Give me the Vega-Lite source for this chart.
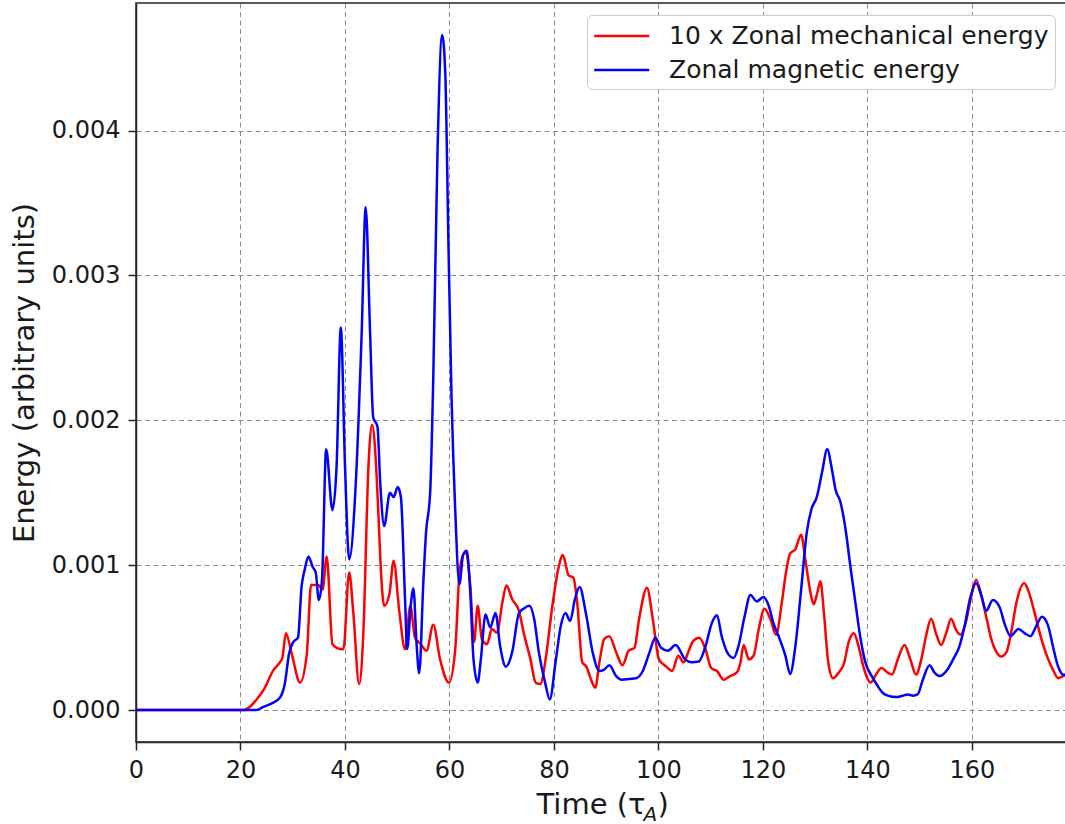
{
  "$schema": "https://vega.github.io/schema/vega-lite/v6.json",
  "width": 930,
  "height": 739,
  "autosize": {"type": "none"},
  "padding": {"left": 136, "top": 3, "right": 0, "bottom": 82},
  "background": "white",
  "datasets": {
    "mechanical": [
      {"t":0,"e":0},{"t":20.5,"e":0},{"t":21.8,"e":0.000023},{"t":23.0,"e":0.00007},{"t":24.4,"e":0.000138},{"t":26.3,"e":0.000276},{"t":27.6,"e":0.000333},{"t":28.0,"e":0.00036},{"t":28.7,"e":0.00053},{"t":29.8,"e":0.00039},{"t":31.4,"e":0.00019},{"t":32.7,"e":0.00039},{"t":33.5,"e":0.000863},{"t":34.9,"e":0.000863},{"t":35.7,"e":0.00083},{"t":36.5,"e":0.00106},{"t":37.6,"e":0.000455},{"t":38.4,"e":0.00043},{"t":39.7,"e":0.00042},{"t":40.8,"e":0.00095},{"t":41.6,"e":0.00067},{"t":42.7,"e":0.00018},{"t":43.5,"e":0.00052},{"t":44.5,"e":0.00169},{"t":45.2,"e":0.00197},{"t":45.9,"e":0.00172},{"t":46.4,"e":0.00135},{"t":46.9,"e":0.00095},{"t":47.5,"e":0.00072},{"t":48.5,"e":0.0008},{"t":49.3,"e":0.00103},{"t":50.4,"e":0.00068},{"t":51.5,"e":0.00042},{"t":52.5,"e":0.00072},{"t":53.4,"e":0.0005},{"t":54.4,"e":0.00046},{"t":55.6,"e":0.00041},{"t":56.9,"e":0.00059},{"t":58.2,"e":0.00035},{"t":59.9,"e":0.00019},{"t":61.1,"e":0.00042},{"t":62.0,"e":0.00098},{"t":63.0,"e":0.00109},{"t":64.0,"e":0.00085},{"t":64.7,"e":0.00047},{"t":65.4,"e":0.00072},{"t":66.2,"e":0.00049},{"t":67.2,"e":0.000455},{"t":68.1,"e":0.00056},{"t":69.1,"e":0.000535},{"t":70.1,"e":0.00074},{"t":70.9,"e":0.00086},{"t":72.0,"e":0.000765},{"t":73.3,"e":0.000685},{"t":74.2,"e":0.000535},{"t":75.5,"e":0.00035},{"t":76.5,"e":0.00019},{"t":77.4,"e":0.00018},{"t":78.4,"e":0.00035},{"t":79.7,"e":0.00072},{"t":80.8,"e":0.00097},{"t":81.7,"e":0.00107},{"t":82.8,"e":0.00093},{"t":83.7,"e":0.000915},{"t":84.5,"e":0.00072},{"t":85.4,"e":0.00033},{"t":86.2,"e":0.0003},{"t":87.1,"e":0.00021},{"t":87.9,"e":0.000155},{"t":88.7,"e":0.00033},{"t":89.6,"e":0.00049},{"t":90.6,"e":0.00051},{"t":91.9,"e":0.0004},{"t":93.1,"e":0.00031},{"t":94.3,"e":0.00041},{"t":95.4,"e":0.00043},{"t":96.3,"e":0.00063},{"t":97.8,"e":0.000845},{"t":98.9,"e":0.00063},{"t":100.1,"e":0.00035},{"t":101.5,"e":0.0003},{"t":102.6,"e":0.00027},{"t":103.8,"e":0.000375},{"t":104.8,"e":0.00033},{"t":105.8,"e":0.00041},{"t":106.7,"e":0.00048},{"t":107.8,"e":0.0005},{"t":109.0,"e":0.00042},{"t":110.1,"e":0.00029},{"t":111.2,"e":0.00027},{"t":112.5,"e":0.00021},{"t":113.7,"e":0.000235},{"t":115.0,"e":0.00026},{"t":115.7,"e":0.00033},{"t":116.3,"e":0.00045},{"t":117.3,"e":0.00035},{"t":118.2,"e":0.000375},{"t":119.2,"e":0.00056},{"t":120.3,"e":0.0007},{"t":121.4,"e":0.00063},{"t":122.5,"e":0.00052},{"t":123.6,"e":0.00074},{"t":124.4,"e":0.00095},{"t":125.2,"e":0.00108},{"t":126.2,"e":0.00111},{"t":127.3,"e":0.00121},{"t":128.1,"e":0.00104},{"t":129.1,"e":0.00081},{"t":129.7,"e":0.00073},{"t":130.4,"e":0.00081},{"t":131.0,"e":0.00089},{"t":131.6,"e":0.0007},{"t":132.5,"e":0.00033},{"t":133.4,"e":0.00022},{"t":134.5,"e":0.00026},{"t":135.5,"e":0.00032},{"t":136.4,"e":0.00047},{"t":137.4,"e":0.00053},{"t":138.3,"e":0.00044},{"t":139.3,"e":0.00029},{"t":140.6,"e":0.00019},{"t":141.7,"e":0.00025},{"t":142.7,"e":0.00029},{"t":143.8,"e":0.00026},{"t":144.7,"e":0.000245},{"t":145.8,"e":0.00035},{"t":147.1,"e":0.00045},{"t":148.2,"e":0.00035},{"t":149.3,"e":0.000245},{"t":150.3,"e":0.00035},{"t":151.2,"e":0.00051},{"t":152.2,"e":0.00063},{"t":153.2,"e":0.00052},{"t":154.1,"e":0.00045},{"t":155.1,"e":0.000535},{"t":156.0,"e":0.00063},{"t":157.0,"e":0.00055},{"t":157.8,"e":0.00052},{"t":158.7,"e":0.00059},{"t":159.9,"e":0.00079},{"t":160.8,"e":0.0009},{"t":161.8,"e":0.00079},{"t":162.7,"e":0.00065},{"t":163.7,"e":0.00049},{"t":164.7,"e":0.0004},{"t":165.6,"e":0.00037},{"t":166.6,"e":0.0004},{"t":167.5,"e":0.000535},{"t":168.5,"e":0.00074},{"t":170.0,"e":0.000875},{"t":171.1,"e":0.00079},{"t":172.0,"e":0.00067},{"t":173.3,"e":0.00049},{"t":174.6,"e":0.00035},{"t":175.5,"e":0.00028},{"t":176.5,"e":0.00022},{"t":177.4,"e":0.000235},{"t":178,"e":0.00025}
    ],
    "magnetic": [
      {"t":0,"e":0},{"t":23.0,"e":0},{"t":24.4,"e":0.000023},{"t":26.0,"e":0.000046},{"t":27.6,"e":0.000088},{"t":28.5,"e":0.000185},{"t":29.3,"e":0.00039},{"t":30.1,"e":0.00047},{"t":31.0,"e":0.0005},{"t":31.7,"e":0.000855},{"t":32.3,"e":0.00097},{"t":33.0,"e":0.00106},{"t":33.8,"e":0.00099},{"t":34.4,"e":0.00095},{"t":35.0,"e":0.00076},{"t":35.6,"e":0.0009},{"t":36.4,"e":0.0018},{"t":37.6,"e":0.00138},{"t":38.4,"e":0.00169},{"t":39.2,"e":0.00264},{"t":40.0,"e":0.00169},{"t":40.8,"e":0.00104},{"t":42.1,"e":0.00159},{"t":43.2,"e":0.00261},{"t":43.96,"e":0.00347},{"t":44.8,"e":0.00261},{"t":45.4,"e":0.00202},{"t":46.2,"e":0.00196},{"t":46.8,"e":0.00153},{"t":47.5,"e":0.00127},{"t":48.6,"e":0.0015},{"t":49.3,"e":0.00147},{"t":50.1,"e":0.00154},{"t":50.7,"e":0.00147},{"t":51.5,"e":0.00076},{"t":51.9,"e":0.00042},{"t":52.6,"e":0.00073},{"t":53.1,"e":0.00084},{"t":53.7,"e":0.000455},{"t":54.2,"e":0.000255},{"t":55.0,"e":0.000886},{"t":55.5,"e":0.00122},{"t":56.3,"e":0.0015},{"t":56.9,"e":0.0023},{"t":57.7,"e":0.00384},{"t":58.6,"e":0.00466},{"t":59.2,"e":0.00439},{"t":59.8,"e":0.00322},{"t":60.4,"e":0.00215},{"t":61.1,"e":0.00138},{"t":61.9,"e":0.00087},{"t":62.6,"e":0.00107},{"t":63.3,"e":0.0011},{"t":64.0,"e":0.0008},{"t":64.6,"e":0.00035},{"t":65.4,"e":0.00019},{"t":66.0,"e":0.00035},{"t":66.9,"e":0.00066},{"t":67.8,"e":0.00057},{"t":68.8,"e":0.00067},{"t":69.7,"e":0.00044},{"t":70.8,"e":0.0003},{"t":72.0,"e":0.0004},{"t":73.3,"e":0.00067},{"t":74.2,"e":0.0007},{"t":75.3,"e":0.00072},{"t":76.2,"e":0.00063},{"t":77.1,"e":0.0004},{"t":78.3,"e":0.00019},{"t":79.2,"e":0.000074},{"t":80.3,"e":0.00033},{"t":81.3,"e":0.00058},{"t":82.2,"e":0.00067},{"t":83.1,"e":0.000615},{"t":84.0,"e":0.000765},{"t":84.9,"e":0.00085},{"t":86.1,"e":0.00067},{"t":87.4,"e":0.0004},{"t":88.7,"e":0.00027},{"t":89.6,"e":0.00028},{"t":90.6,"e":0.00031},{"t":91.9,"e":0.000235},{"t":93.0,"e":0.00021},{"t":94.4,"e":0.000215},{"t":95.7,"e":0.00022},{"t":97.0,"e":0.00027},{"t":98.3,"e":0.0004},{"t":99.4,"e":0.0005},{"t":100.5,"e":0.00043},{"t":101.8,"e":0.00041},{"t":103.3,"e":0.00045},{"t":105.1,"e":0.00035},{"t":106.4,"e":0.00033},{"t":107.7,"e":0.000335},{"t":109.0,"e":0.00044},{"t":110.2,"e":0.0006},{"t":111.2,"e":0.000655},{"t":112.1,"e":0.00051},{"t":113.3,"e":0.00039},{"t":114.4,"e":0.00036},{"t":115.3,"e":0.00044},{"t":116.5,"e":0.00065},{"t":117.6,"e":0.000795},{"t":118.8,"e":0.00075},{"t":120.1,"e":0.00078},{"t":121.1,"e":0.00072},{"t":122.0,"e":0.0006},{"t":123.0,"e":0.00051},{"t":124.3,"e":0.000375},{"t":125.2,"e":0.00025},{"t":126.2,"e":0.00044},{"t":127.3,"e":0.00083},{"t":128.4,"e":0.00123},{"t":129.3,"e":0.00139},{"t":130.3,"e":0.00147},{"t":131.3,"e":0.00164},{"t":132.3,"e":0.0018},{"t":133.2,"e":0.00166},{"t":133.9,"e":0.00152},{"t":134.8,"e":0.00144},{"t":135.8,"e":0.00125},{"t":136.7,"e":0.001},{"t":137.7,"e":0.00074},{"t":138.6,"e":0.00051},{"t":139.6,"e":0.00033},{"t":140.9,"e":0.00023},{"t":141.9,"e":0.00017},{"t":142.9,"e":0.00012},{"t":143.9,"e":0.0001},{"t":145.5,"e":0.00009},{"t":146.5,"e":0.000097},{"t":147.7,"e":0.000108},{"t":148.7,"e":0.0001},{"t":149.6,"e":0.000108},{"t":150.6,"e":0.00021},{"t":151.9,"e":0.00031},{"t":152.8,"e":0.00026},{"t":153.8,"e":0.000235},{"t":155.1,"e":0.00027},{"t":156.4,"e":0.00035},{"t":157.6,"e":0.00044},{"t":158.6,"e":0.00058},{"t":159.6,"e":0.000765},{"t":160.8,"e":0.000875},{"t":161.8,"e":0.00079},{"t":162.7,"e":0.000685},{"t":164.0,"e":0.00076},{"t":165.3,"e":0.00071},{"t":166.3,"e":0.00059},{"t":167.4,"e":0.00051},{"t":168.9,"e":0.00056},{"t":170.1,"e":0.00053},{"t":171.2,"e":0.00051},{"t":172.3,"e":0.00058},{"t":173.4,"e":0.000645},{"t":174.6,"e":0.00058},{"t":175.5,"e":0.00044},{"t":176.5,"e":0.0003},{"t":177.4,"e":0.000245},{"t":178,"e":0.00024}
    ]
  },
  "layer": [
    {
      "data": {"name": "mechanical"},
      "mark": {"type": "line", "interpolate": "monotone", "strokeWidth": 2.5, "clip": true},
      "encoding": {
        "x": {
          "field": "t",
          "type": "quantitative",
          "scale": {"domain": [0, 178], "nice": false, "zero": false},
          "axis": {
            "title": "Time (τ",
            "values": [0, 20, 40, 60, 80, 100, 120, 140, 160],
            "grid": true,
            "labelFlush": false,
            "titleAlign": "left",
            "titleBaseline": "alphabetic",
            "titleX": 400,
            "titleY": 71
          }
        },
        "y": {
          "field": "e",
          "type": "quantitative",
          "scale": {"domain": [-0.00022, 0.00488], "nice": false, "zero": false},
          "axis": {
            "title": "Energy (arbitrary units)",
            "values": [0, 0.001, 0.002, 0.003, 0.004],
            "format": ".3f",
            "grid": true,
            "labelFlush": false,
            "titleAngle": -90,
            "titleAlign": "center",
            "titleBaseline": "middle",
            "titleX": -112,
            "titleY": 369.5
          }
        },
        "color": {
          "datum": "10 x Zonal mechanical energy",
          "type": "nominal",
          "scale": {
            "domain": ["10 x Zonal mechanical energy", "Zonal magnetic energy"],
            "range": ["#ff0000", "#0000ff"]
          },
          "legend": {
            "title": null,
            "orient": "none",
            "legendX": 451,
            "legendY": 12,
            "symbolType": "M-1,0H3",
            "symbolSize": 756,
            "symbolStrokeWidth": 2.5,
            "labelFontSize": 25,
            "labelLimit": 0,
            "labelOffset": 46,
            "labelColor": "#1a1a1a",
            "labelFont": "DejaVu Sans",
            "padding": 6,
            "rowPadding": 6,
            "strokeColor": "#cccccc",
            "fillColor": "white",
            "cornerRadius": 5
          }
        }
      }
    },
    {
      "data": {"name": "magnetic"},
      "mark": {"type": "line", "interpolate": "monotone", "strokeWidth": 2.5, "clip": true},
      "encoding": {
        "x": {
          "field": "t",
          "type": "quantitative",
          "axis": {
            "orient": "top",
            "title": "A",
            "titleFontStyle": "italic",
            "titleFontSize": 20,
            "titleAlign": "left",
            "titleBaseline": "alphabetic",
            "titleAngle": 0,
            "titleX": 507,
            "titleY": 817,
            "labels": false,
            "ticks": false,
            "domain": false,
            "grid": false
          }
        },
        "y": {
          "field": "e",
          "type": "quantitative",
          "axis": {
            "orient": "right",
            "title": ")",
            "titleAngle": 0,
            "titleAlign": "left",
            "titleBaseline": "alphabetic",
            "titleX": -409,
            "titleY": 810,
            "labels": false,
            "ticks": false,
            "domain": false,
            "grid": false
          }
        },
        "color": {"datum": "Zonal magnetic energy", "type": "nominal"}
      }
    }
  ],
  "resolve": {"axis": {"x": "independent", "y": "independent"}},
  "config": {
    "font": "DejaVu Sans",
    "view": {"stroke": "#262626", "strokeWidth": 1.5},
    "axis": {
      "domainColor": "#262626",
      "domainWidth": 1.5,
      "tickColor": "#262626",
      "tickWidth": 1.5,
      "tickSize": 8,
      "labelFont": "DejaVu Sans",
      "labelFontSize": 24,
      "labelColor": "#1a1a1a",
      "labelPadding": 8,
      "titleFont": "DejaVu Sans",
      "titleFontSize": 29,
      "titleFontWeight": "normal",
      "titleColor": "#1a1a1a",
      "gridColor": "#808080",
      "gridDash": [5, 3.5],
      "gridWidth": 1,
      "gridOpacity": 0.9
    }
  }
}
